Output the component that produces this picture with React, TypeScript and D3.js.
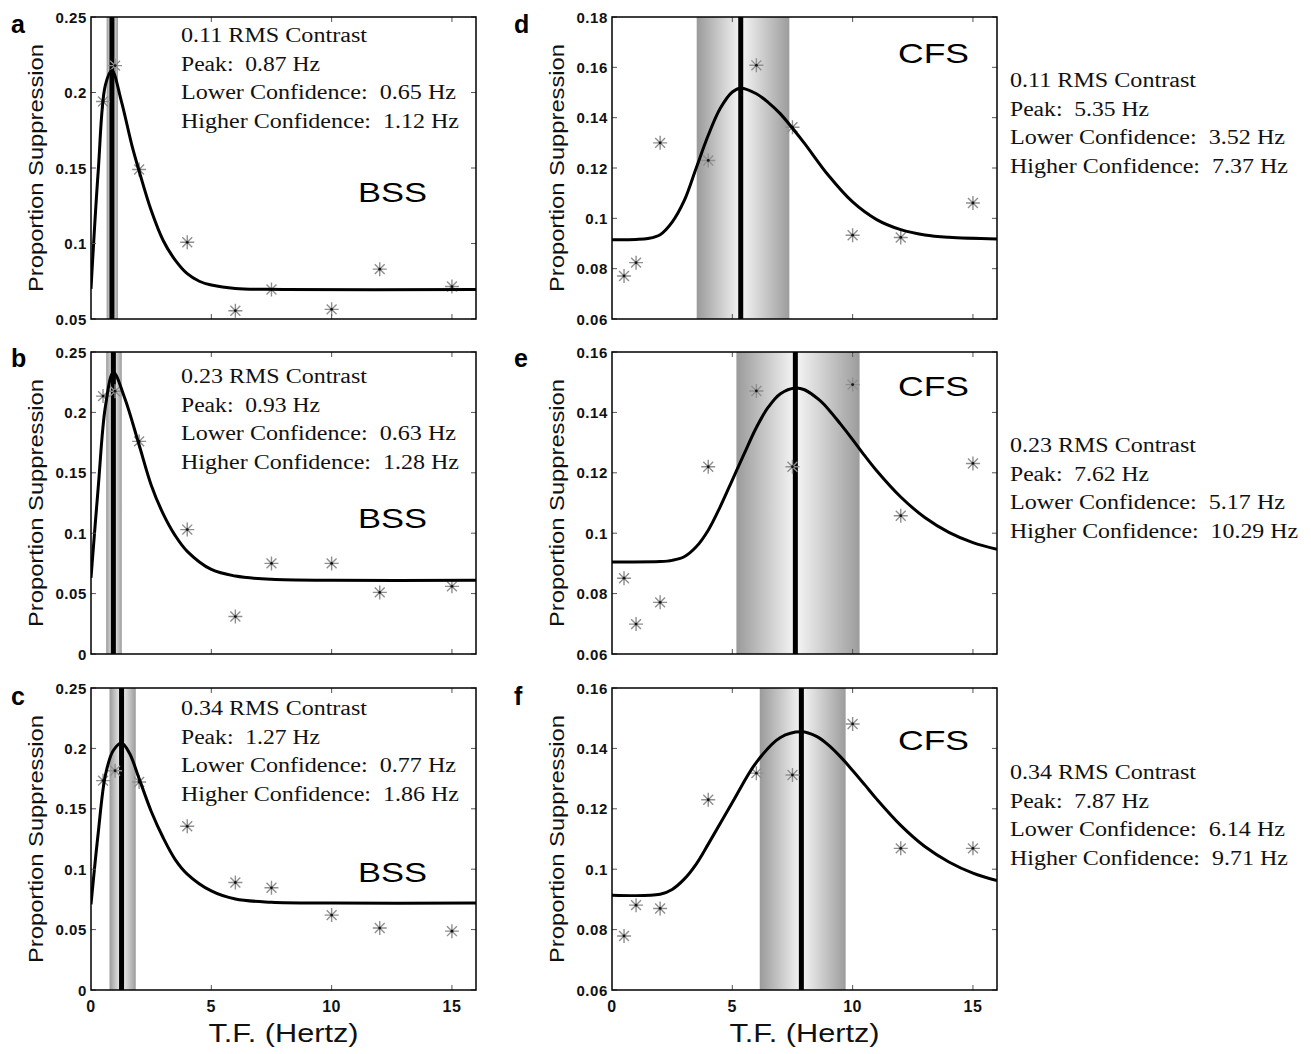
import React from 'react';
import * as d3 from 'd3';

// ---------- data ----------
const TF_HZ = [0.5, 1, 2, 4, 6, 7.5, 10, 12, 15];

const SUPP_A = [0.194, 0.2178, 0.149, 0.1008, 0.0555, 0.0695, 0.0564, 0.083, 0.0715];
const SUPP_B = [0.2135, 0.2175, 0.176, 0.103, 0.031, 0.075, 0.075, 0.051, 0.056];
const SUPP_C = [0.1733, 0.1815, 0.1722, 0.1355, 0.089, 0.0846, 0.062, 0.0513, 0.0487];
const SUPP_D = [0.0771, 0.0824, 0.13, 0.123, 0.1608, 0.1362, 0.0933, 0.0924, 0.1061];
const SUPP_E = [0.0851, 0.0699, 0.0771, 0.122, 0.1471, 0.122, 0.1492, 0.1058, 0.1231];
const SUPP_F = [0.0779, 0.0881, 0.087, 0.123, 0.1318, 0.1312, 0.1481, 0.1069, 0.1069];

type Pt = [number, number];
const FIT_A: Pt[] = [[0, 0.07], [0.3, 0.148], [0.6, 0.205], [0.87, 0.2145], [1.25, 0.195], [1.7, 0.165], [2, 0.148], [2.5, 0.122], [3, 0.102], [3.5, 0.089], [4, 0.08], [4.5, 0.075], [5, 0.0725], [6, 0.0702], [8, 0.0696], [16, 0.0695]];
const FIT_B: Pt[] = [[0, 0.063], [0.3, 0.138], [0.6, 0.205], [0.93, 0.233], [1.4, 0.212], [2, 0.173], [2.5, 0.14], [3, 0.116], [3.5, 0.098], [4, 0.085], [5, 0.07], [6, 0.0645], [7.5, 0.0618], [10, 0.061], [16, 0.061]];
const FIT_C: Pt[] = [[0, 0.071], [0.3, 0.13], [0.6, 0.178], [0.92, 0.198], [1.27, 0.2045], [1.6, 0.196], [2, 0.175], [2.5, 0.148], [3, 0.126], [3.5, 0.108], [4, 0.096], [5, 0.082], [6, 0.0753], [7.5, 0.0727], [10, 0.072], [16, 0.072]];
const FIT_D: Pt[] = [[0, 0.0915], [1, 0.0916], [1.5, 0.092], [2, 0.0935], [2.5, 0.0985], [3, 0.107], [3.5, 0.12], [4, 0.133], [4.5, 0.1437], [5, 0.1502], [5.35, 0.1517], [6, 0.1495], [6.5, 0.146], [7, 0.1415], [7.5, 0.1358], [8, 0.1298], [9, 0.117], [10, 0.1065], [11, 0.0995], [12, 0.0955], [13, 0.0934], [14, 0.0925], [16, 0.0918]];
const FIT_E: Pt[] = [[0, 0.0905], [2, 0.0906], [2.5, 0.091], [3, 0.0922], [3.5, 0.0955], [4, 0.101], [4.5, 0.1088], [5, 0.1176], [5.5, 0.1264], [6, 0.135], [6.5, 0.1418], [7, 0.1462], [7.62, 0.1481], [8, 0.1475], [8.6, 0.1442], [9, 0.141], [9.5, 0.1361], [10, 0.131], [10.5, 0.1257], [11, 0.1207], [12, 0.112], [13, 0.1052], [14, 0.1003], [15, 0.0969], [16, 0.0947]];
const FIT_F: Pt[] = [[0, 0.0914], [2, 0.0917], [2.5, 0.0933], [3, 0.0967], [3.5, 0.1017], [4, 0.1083], [5, 0.1221], [6, 0.1354], [7, 0.1436], [7.87, 0.1455], [8.5, 0.144], [9, 0.1411], [9.5, 0.1372], [10, 0.1327], [10.5, 0.128], [11, 0.1232], [12, 0.1145], [13, 0.1075], [14, 0.1024], [15, 0.0987], [16, 0.0962]];

const PANEL_LETTERS = ['a', 'b', 'c', 'd', 'e', 'f'];
const METHODS = ['BSS', 'BSS', 'BSS', 'CFS', 'CFS', 'CFS'];
const RMS_CONTRAST = ['0.11', '0.23', '0.34', '0.11', '0.23', '0.34'];
const PEAK_HZ = [0.87, 0.93, 1.27, 5.35, 7.62, 7.87];
const LOWER_HZ = [0.65, 0.63, 0.77, 3.52, 5.17, 6.14];
const HIGHER_HZ = [1.12, 1.28, 1.86, 7.37, 10.29, 9.71];

const Y_DOMAINS: [number, number][] = [[0.05, 0.25], [0, 0.25], [0, 0.25], [0.06, 0.18], [0.06, 0.16], [0.06, 0.16]];
const Y_TICKS_A = [0.05, 0.1, 0.15, 0.2, 0.25];
const Y_TICKS_BC = [0, 0.05, 0.1, 0.15, 0.2, 0.25];
const Y_TICKS_D = [0.06, 0.08, 0.1, 0.12, 0.14, 0.16, 0.18];
const Y_TICKS_EF = [0.06, 0.08, 0.1, 0.12, 0.14, 0.16];
const X_DOMAIN: [number, number] = [0, 16];
const X_TICKS = [0, 5, 10, 15];

const Y_TITLE = 'Proportion Suppression';
const X_TITLE = 'T.F. (Hertz)';

const SUPP = [SUPP_A, SUPP_B, SUPP_C, SUPP_D, SUPP_E, SUPP_F];
const FITS = [FIT_A, FIT_B, FIT_C, FIT_D, FIT_E, FIT_F];
const Y_TICKS = [Y_TICKS_A, Y_TICKS_BC, Y_TICKS_BC, Y_TICKS_D, Y_TICKS_EF, Y_TICKS_EF];

// ---------- layout ----------
const W = 1311;
const H = 1054;
const COL_LEFT = [91, 612];
const PLOT_W = 385;
const ROW_TOP = [17, 352, 688];
const PLOT_H = 302;
const LETTER_BASE = [33, 367, 705];
const INFO_X_IN = 181;
const INFO_X_OUT = 1010;
const INFO_BASE = [42, 383, 715, 87, 452, 779];
const INFO_STEP = 28.6;
const METHOD_BASE = [202, 528, 882, 63, 396, 750];

const SERIF = '"Liberation Serif", "Times New Roman", serif';
const SANS = '"Liberation Sans", Arial, sans-serif';

const fmt = (v: number) => String(+v.toFixed(2));

function Asterisk({ cx, cy }: { cx: number; cy: number }) {
  const r = 7;
  const k = r * 0.7071;
  const d = `M${-r},0L${r},0M0,${-r}L0,${r}M${-k},${-k}L${k},${k}M${-k},${k}L${k},${-k}`;
  return (
    <g transform={`translate(${cx},${cy})`}>
      <path d={d} stroke="#8f8f8f" strokeWidth={1.4} fill="none" />
      <circle r={1.4} fill="#111" />
    </g>
  );
}

function Panel({ i }: { i: number }) {
  const col = i < 3 ? 0 : 1;
  const row = i % 3;
  const left = COL_LEFT[col];
  const top = ROW_TOP[row];
  const x = d3.scaleLinear().domain(X_DOMAIN).range([left, left + PLOT_W]);
  const y = d3.scaleLinear().domain(Y_DOMAINS[i]).range([top + PLOT_H, top]);
  const line = d3
    .line<Pt>()
    .x((d) => x(d[0]))
    .y((d) => y(d[1]))
    .curve(d3.curveCatmullRom.alpha(0.5));
  const clipId = `clip-${i}`;
  const xl = x(LOWER_HZ[i]);
  const xp = x(PEAK_HZ[i]);
  const xh = x(HIGHER_HZ[i]);
  const infoLines = [
    `${RMS_CONTRAST[i]} RMS Contrast`,
    `Peak:  ${PEAK_HZ[i].toFixed(2)} Hz`,
    `Lower Confidence:  ${LOWER_HZ[i].toFixed(2)} Hz`,
    `Higher Confidence:  ${HIGHER_HZ[i].toFixed(2)} Hz`,
  ];
  const infoWidths = [186, 139, 275, HIGHER_HZ[i] >= 10 ? 288 : 278];
  const infoX = col === 0 ? INFO_X_IN : INFO_X_OUT;
  const tickLen = 5;
  const bottomRow = row === 2;
  return (
    <g>
      <defs>
        <clipPath id={clipId}>
          <rect x={left} y={top} width={PLOT_W} height={PLOT_H} />
        </clipPath>
      </defs>
      <rect x={left} y={top} width={PLOT_W} height={PLOT_H} fill="#fff" />
      <g clipPath={`url(#${clipId})`}>
        <rect x={xl} y={top} width={xp - xl} height={PLOT_H} fill="url(#bandL)" />
        <rect x={xp} y={top} width={xh - xp} height={PLOT_H} fill="url(#bandR)" />
        <line x1={xp} x2={xp} y1={top} y2={top + PLOT_H} stroke="#000" strokeWidth={5} />
        {TF_HZ.map((f, j) => (
          <Asterisk key={j} cx={x(f)} cy={y(SUPP[i][j])} />
        ))}
        <path d={line(FITS[i]) || ''} fill="none" stroke="#000" strokeWidth={3} strokeLinejoin="round" />
      </g>
      {/* ticks */}
      {X_TICKS.filter((t) => t > 0).map((t) => (
        <g key={`xt${t}`} stroke="#555" strokeWidth={1}>
          <line x1={x(t)} x2={x(t)} y1={top + PLOT_H} y2={top + PLOT_H - tickLen} />
          <line x1={x(t)} x2={x(t)} y1={top} y2={top + tickLen} />
        </g>
      ))}
      {Y_TICKS[i].map((t) => (
        <g key={`yt${t}`} stroke="#555" strokeWidth={1}>
          <line x1={left} x2={left + tickLen} y1={y(t)} y2={y(t)} />
          <line x1={left + PLOT_W} x2={left + PLOT_W - tickLen} y1={y(t)} y2={y(t)} />
        </g>
      ))}
      <rect x={left} y={top} width={PLOT_W} height={PLOT_H} fill="none" stroke="#000" strokeWidth={1.5} />
      {/* y tick labels */}
      {Y_TICKS[i].map((t) => (
        <text
          key={`yl${t}`}
          x={left - 4}
          y={y(t) + 5.5}
          textAnchor="end"
          fontFamily={SANS}
          fontWeight="bold"
          fontSize={15}
          letterSpacing={0.6}
          fill="#111"
        >
          {fmt(t)}
        </text>
      ))}
      {bottomRow &&
        X_TICKS.map((t) => (
          <text
            key={`xl${t}`}
            x={x(t)}
            y={top + PLOT_H + 22}
            textAnchor="middle"
            fontFamily={SANS}
            fontWeight="bold"
            fontSize={16}
            letterSpacing={0.6}
            fill="#111"
          >
            {t}
          </text>
        ))}
      {bottomRow && (
        <text
          x={left + PLOT_W / 2}
          y={1042}
          textAnchor="middle"
          fontFamily={SANS}
          fontSize={25}
          textLength={150}
          lengthAdjust="spacingAndGlyphs"
          fill="#111"
        >
          {X_TITLE}
        </text>
      )}
      {/* y title */}
      <text
        transform={`translate(${left - 48},${top + PLOT_H / 2}) rotate(-90)`}
        textAnchor="middle"
        fontFamily={SANS}
        fontSize={20}
        textLength={248}
        lengthAdjust="spacingAndGlyphs"
        fill="#111"
      >
        {Y_TITLE}
      </text>
      {/* panel letter */}
      <text
        x={col === 0 ? 11 : 514}
        y={LETTER_BASE[row]}
        fontFamily={SANS}
        fontWeight="bold"
        fontSize={25}
        fill="#000"
      >
        {PANEL_LETTERS[i]}
      </text>
      {/* method label */}
      <text
        x={col === 0 ? 358 : 898}
        y={METHOD_BASE[i]}
        fontFamily={SANS}
        fontSize={28}
        textLength={col === 0 ? 69 : 71}
        lengthAdjust="spacingAndGlyphs"
        fill="#000"
      >
        {METHODS[i]}
      </text>
      {/* info text */}
      {infoLines.map((s, k) => (
        <text
          key={`info${k}`}
          x={infoX}
          y={INFO_BASE[i] + k * INFO_STEP}
          fontFamily={SERIF}
          fontSize={20}
          textLength={infoWidths[k]}
          lengthAdjust="spacingAndGlyphs"
          style={{ whiteSpace: 'pre' }}
          fill="#111"
        >
          {s}
        </text>
      ))}
    </g>
  );
}

export default function App() {
  return (
    <svg
      width={W}
      height={H}
      viewBox={`0 0 ${W} ${H}`}
      style={{ position: 'absolute', left: 0, top: 0, display: 'block', background: '#fff' }}
    >
      <defs>
        <linearGradient id="bandL" x1="0" x2="1" y1="0" y2="0">
          <stop offset="0" stopColor="#9a9a9a" />
          <stop offset="1" stopColor="#f6f6f6" />
        </linearGradient>
        <linearGradient id="bandR" x1="0" x2="1" y1="0" y2="0">
          <stop offset="0" stopColor="#f6f6f6" />
          <stop offset="1" stopColor="#9c9c9c" />
        </linearGradient>
      </defs>
      <rect x={0} y={0} width={W} height={H} fill="#fff" />
      {PANEL_LETTERS.map((_, i) => (
        <Panel key={i} i={i} />
      ))}
    </svg>
  );
}
